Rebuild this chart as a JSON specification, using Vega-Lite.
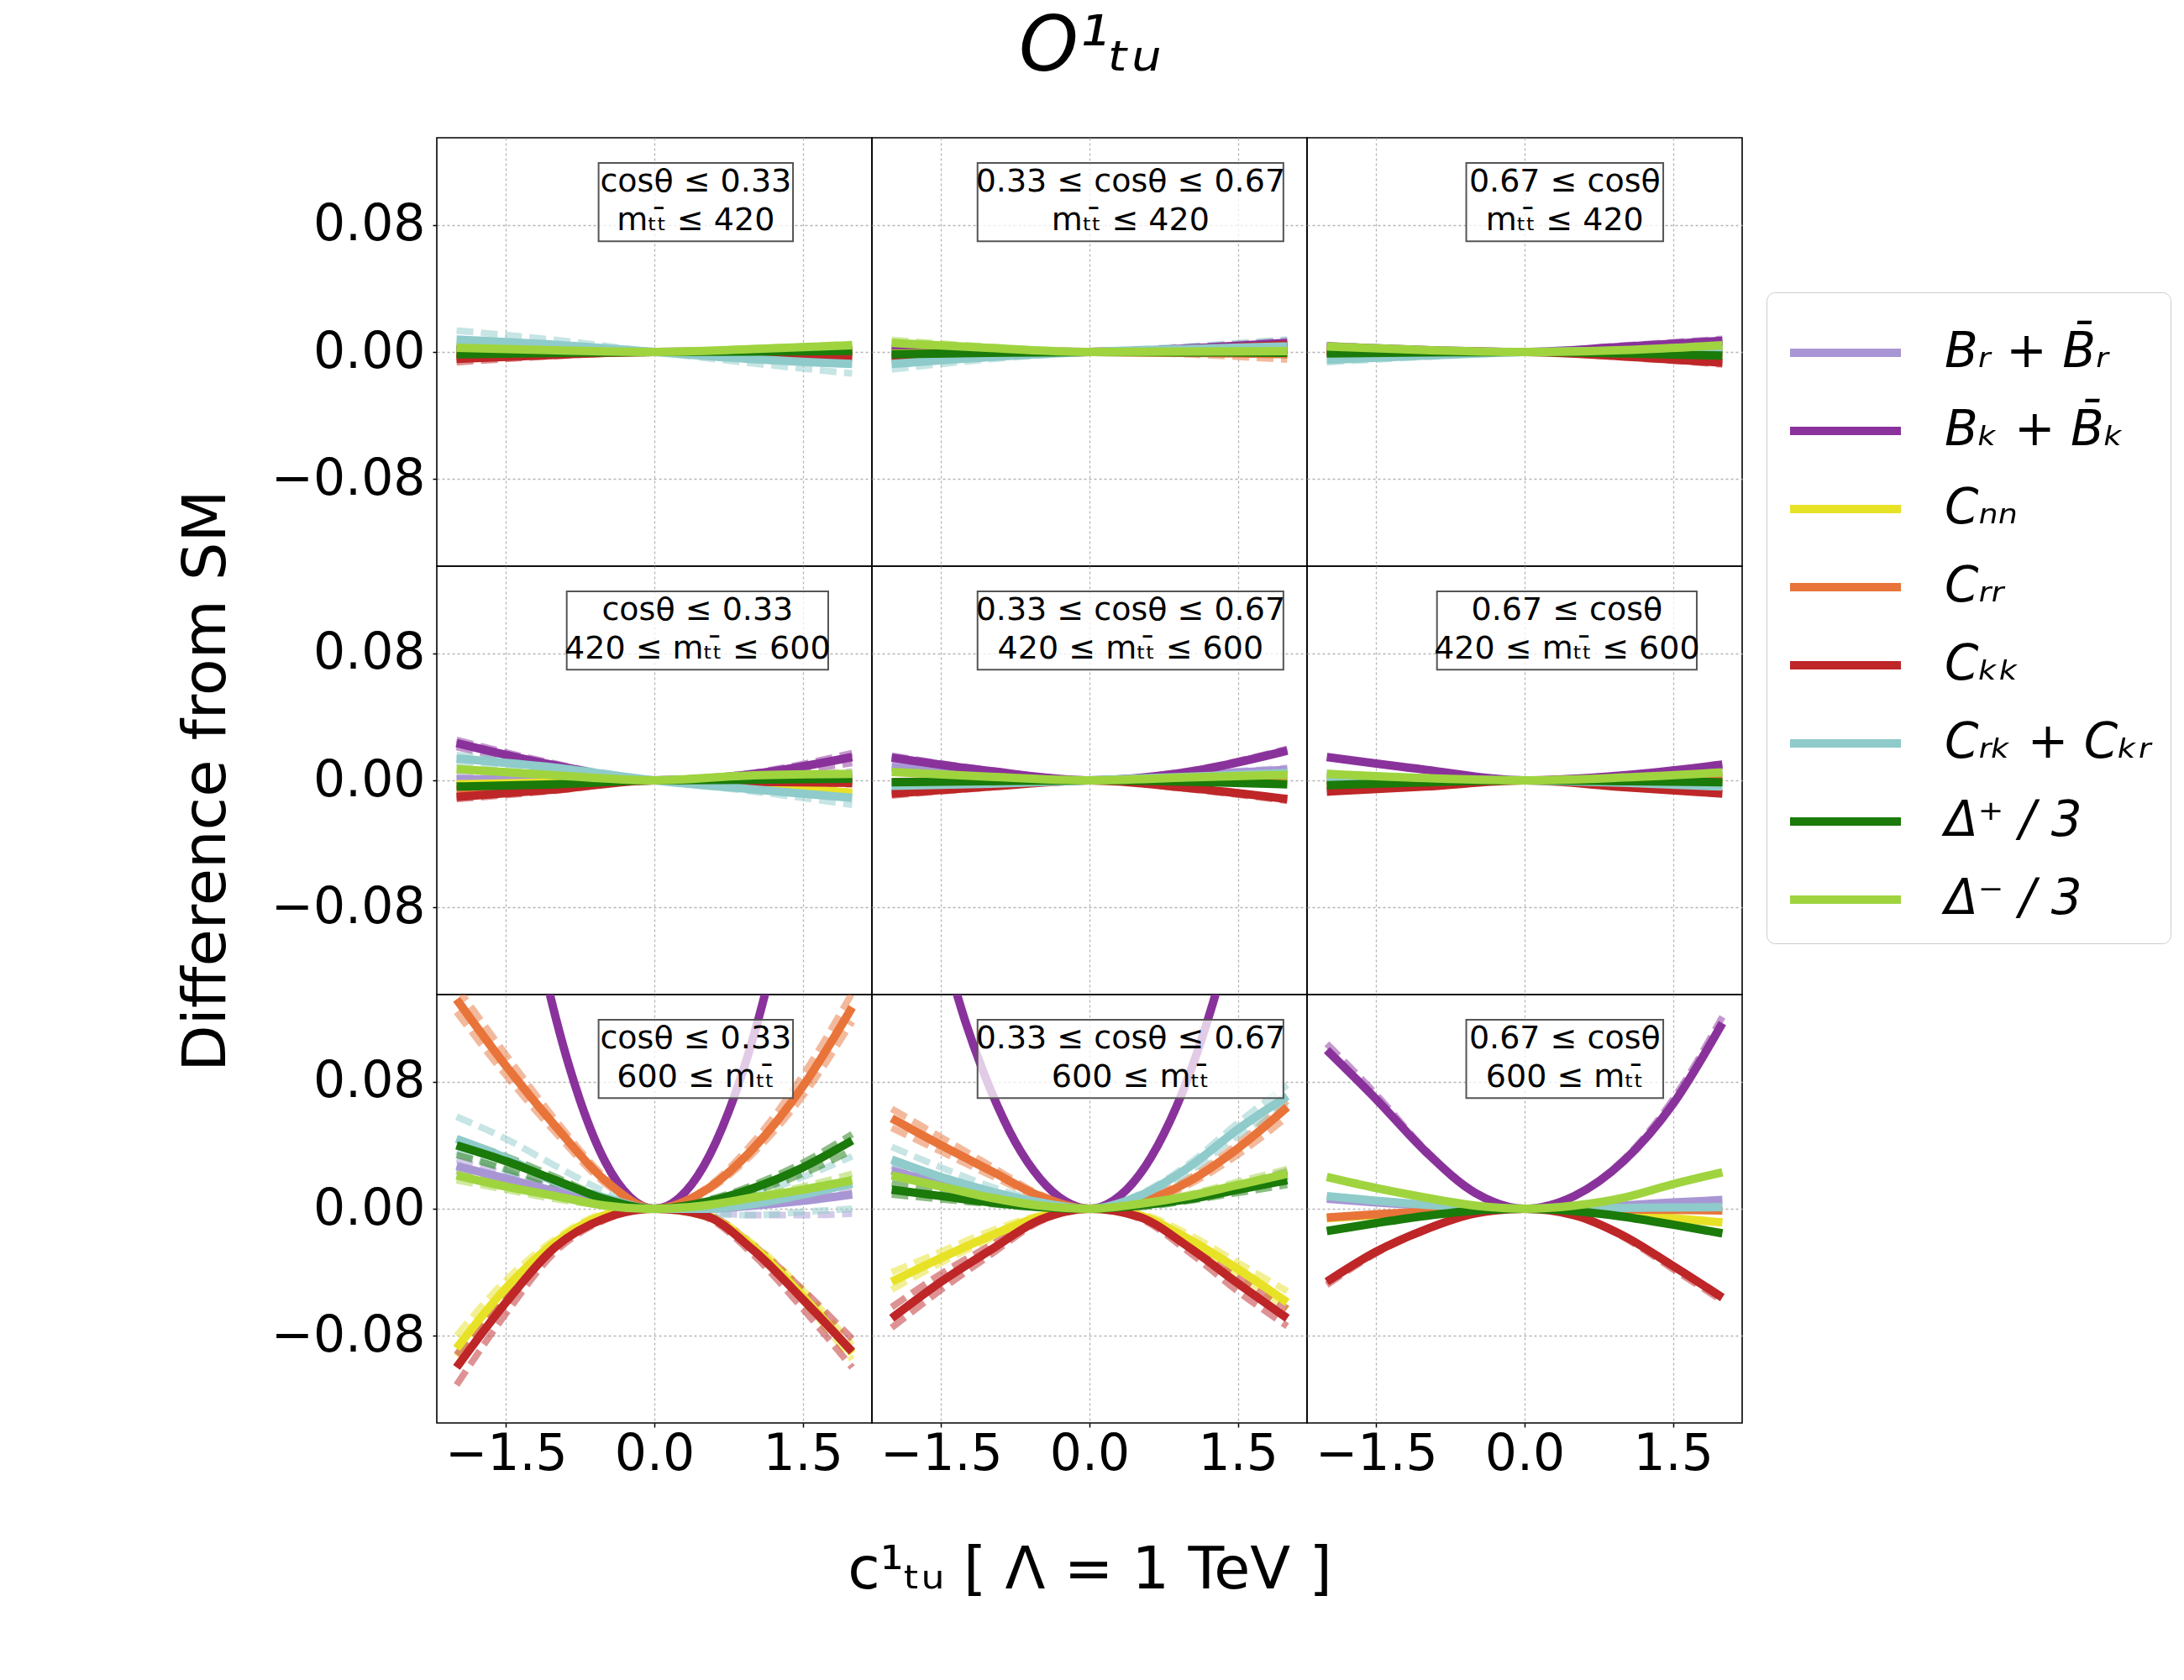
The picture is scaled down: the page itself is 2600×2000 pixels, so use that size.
{
"$schema":"https://vega.github.io/schema/vega-lite/v6.json",
"autosize":{"type":"none"},
"padding":{"left":520,"top":164,"right":2080,"bottom":1836},
"background":"white",
"title":{"text":"O¹ₜᵤ","font":"DejaVu Sans","fontSize":90,"fontStyle":"italic","fontWeight":"normal","anchor":"start","align":"center","dx":778,"frame":"group","baseline":"alphabetic","offset":-11,"color":"black"},
"datasets":{
"lab":[{"p":"a1","t":"cosθ ≤ 0.33\nmₜₜ̄ ≤ 420"},{"p":"a2","t":"0.33 ≤ cosθ ≤ 0.67\nmₜₜ̄ ≤ 420"},{"p":"a3","t":"0.67 ≤ cosθ\nmₜₜ̄ ≤ 420"},{"p":"b1","t":"cosθ ≤ 0.33\n420 ≤ mₜₜ̄ ≤ 600"},{"p":"b2","t":"0.33 ≤ cosθ ≤ 0.67\n420 ≤ mₜₜ̄ ≤ 600"},{"p":"b3","t":"0.67 ≤ cosθ\n420 ≤ mₜₜ̄ ≤ 600"},{"p":"c1","t":"cosθ ≤ 0.33\n600 ≤ mₜₜ̄"},{"p":"c2","t":"0.33 ≤ cosθ ≤ 0.67\n600 ≤ mₜₜ̄"},{"p":"c3","t":"0.67 ≤ cosθ\n600 ≤ mₜₜ̄"}],
"a1":[
{"s":"a","v":"s","x":-2,"y":0.001},{"s":"a","v":"s","x":-1,"y":0.0003},{"s":"a","v":"s","x":0,"y":0},{"s":"a","v":"s","x":1,"y":0},{"s":"a","v":"s","x":2,"y":0.0005},
{"s":"b","v":"s","x":-2,"y":0.002},{"s":"b","v":"s","x":-1,"y":0.0005},{"s":"b","v":"s","x":0,"y":0},{"s":"b","v":"s","x":1,"y":0.0003},{"s":"b","v":"s","x":2,"y":0.001},
{"s":"c","v":"s","x":-2,"y":-0.001},{"s":"c","v":"s","x":-1,"y":-0.0003},{"s":"c","v":"s","x":0,"y":0},{"s":"c","v":"s","x":1,"y":-0.0002},{"s":"c","v":"s","x":2,"y":-0.0005},
{"s":"d","v":"s","x":-2,"y":-0.003},{"s":"d","v":"s","x":-1,"y":-0.001},{"s":"d","v":"s","x":0,"y":0},{"s":"d","v":"s","x":1,"y":0.0003},{"s":"d","v":"s","x":2,"y":0.001},
{"s":"e","v":"s","x":-2,"y":-0.0044},{"s":"e","v":"s","x":-1,"y":-0.0018},{"s":"e","v":"s","x":0,"y":0},{"s":"e","v":"s","x":1,"y":-0.0009},{"s":"e","v":"s","x":2,"y":-0.0028},
{"s":"e","v":"u","x":-2,"y":-0.0065},{"s":"e","v":"u","x":-1,"y":-0.0025},{"s":"e","v":"u","x":0,"y":0},{"s":"e","v":"u","x":1,"y":-0.0013},{"s":"e","v":"u","x":2,"y":-0.004},
{"s":"e","v":"l","x":-2,"y":-0.0025},{"s":"e","v":"l","x":-1,"y":-0.001},{"s":"e","v":"l","x":0,"y":0},{"s":"e","v":"l","x":1,"y":-0.0005},{"s":"e","v":"l","x":2,"y":-0.0015},
{"s":"f","v":"s","x":-2,"y":0.0078},{"s":"f","v":"s","x":-1,"y":0.0045},{"s":"f","v":"s","x":0,"y":0},{"s":"f","v":"s","x":1,"y":-0.0045},{"s":"f","v":"s","x":2,"y":-0.0076},
{"s":"f","v":"u","x":-2,"y":0.0135},{"s":"f","v":"u","x":-1,"y":0.0075},{"s":"f","v":"u","x":0,"y":0},{"s":"f","v":"u","x":1,"y":-0.0072},{"s":"f","v":"u","x":2,"y":-0.0135},
{"s":"f","v":"l","x":-2,"y":0.004},{"s":"f","v":"l","x":-1,"y":0.0022},{"s":"f","v":"l","x":0,"y":0},{"s":"f","v":"l","x":1,"y":-0.0025},{"s":"f","v":"l","x":2,"y":-0.0045},
{"s":"g","v":"s","x":-2,"y":-0.0014},{"s":"g","v":"s","x":-1,"y":-0.0006},{"s":"g","v":"s","x":0,"y":0},{"s":"g","v":"s","x":1,"y":0.0003},{"s":"g","v":"s","x":2,"y":0.0007},
{"s":"g","v":"u","x":-2,"y":-0.002},{"s":"g","v":"u","x":-1,"y":-0.0008},{"s":"g","v":"u","x":0,"y":0},{"s":"g","v":"u","x":1,"y":0.0005},{"s":"g","v":"u","x":2,"y":0.0012},
{"s":"g","v":"l","x":-2,"y":-0.0008},{"s":"g","v":"l","x":-1,"y":-0.0003},{"s":"g","v":"l","x":0,"y":0},{"s":"g","v":"l","x":1,"y":0.0001},{"s":"g","v":"l","x":2,"y":0.0003},
{"s":"h","v":"s","x":-2,"y":0.0027},{"s":"h","v":"s","x":-1,"y":0.001},{"s":"h","v":"s","x":0,"y":0},{"s":"h","v":"s","x":1,"y":0.0018},{"s":"h","v":"s","x":2,"y":0.0042},
{"s":"h","v":"u","x":-2,"y":0.0035},{"s":"h","v":"u","x":-1,"y":0.0013},{"s":"h","v":"u","x":0,"y":0},{"s":"h","v":"u","x":1,"y":0.0022},{"s":"h","v":"u","x":2,"y":0.005},
{"s":"h","v":"l","x":-2,"y":0.002},{"s":"h","v":"l","x":-1,"y":0.0007},{"s":"h","v":"l","x":0,"y":0},{"s":"h","v":"l","x":1,"y":0.0014},{"s":"h","v":"l","x":2,"y":0.0033}
],
"a2":[
{"s":"a","v":"s","x":-2,"y":0.001},{"s":"a","v":"s","x":-1,"y":0.0003},{"s":"a","v":"s","x":0,"y":0},{"s":"a","v":"s","x":1,"y":0.001},{"s":"a","v":"s","x":2,"y":0.003},
{"s":"b","v":"s","x":-2,"y":0.002},{"s":"b","v":"s","x":-1,"y":0.0008},{"s":"b","v":"s","x":0,"y":0},{"s":"b","v":"s","x":1,"y":0.0022},{"s":"b","v":"s","x":2,"y":0.0057},
{"s":"b","v":"u","x":-2,"y":0.003},{"s":"b","v":"u","x":-1,"y":0.0012},{"s":"b","v":"u","x":0,"y":0},{"s":"b","v":"u","x":1,"y":0.003},{"s":"b","v":"u","x":2,"y":0.0072},
{"s":"c","v":"s","x":-2,"y":-0.001},{"s":"c","v":"s","x":-1,"y":-0.0003},{"s":"c","v":"s","x":0,"y":0},{"s":"c","v":"s","x":1,"y":-0.0002},{"s":"c","v":"s","x":2,"y":-0.0005},
{"s":"d","v":"s","x":-2,"y":-0.004},{"s":"d","v":"s","x":-1,"y":-0.0015},{"s":"d","v":"s","x":0,"y":0},{"s":"d","v":"s","x":1,"y":-0.0005},{"s":"d","v":"s","x":2,"y":-0.0014},
{"s":"d","v":"l","x":-2,"y":-0.006},{"s":"d","v":"l","x":-1,"y":-0.0022},{"s":"d","v":"l","x":0,"y":0},{"s":"d","v":"l","x":1,"y":-0.0015},{"s":"d","v":"l","x":2,"y":-0.0048},
{"s":"e","v":"s","x":-2,"y":-0.003},{"s":"e","v":"s","x":-1,"y":-0.001},{"s":"e","v":"s","x":0,"y":0},{"s":"e","v":"s","x":1,"y":0.0015},{"s":"e","v":"s","x":2,"y":0.0045},
{"s":"f","v":"s","x":-2,"y":-0.0076},{"s":"f","v":"s","x":-1,"y":-0.0032},{"s":"f","v":"s","x":0,"y":0},{"s":"f","v":"s","x":1,"y":0.0018},{"s":"f","v":"s","x":2,"y":0.0035},
{"s":"f","v":"u","x":-2,"y":-0.011},{"s":"f","v":"u","x":-1,"y":-0.0045},{"s":"f","v":"u","x":0,"y":0},{"s":"f","v":"u","x":1,"y":0.0035},{"s":"f","v":"u","x":2,"y":0.0078},
{"s":"f","v":"l","x":-2,"y":-0.005},{"s":"f","v":"l","x":-1,"y":-0.002},{"s":"f","v":"l","x":0,"y":0},{"s":"f","v":"l","x":1,"y":0.0006},{"s":"f","v":"l","x":2,"y":0.0012},
{"s":"g","v":"s","x":-2,"y":-0.0014},{"s":"g","v":"s","x":-1,"y":-0.0005},{"s":"g","v":"s","x":0,"y":0},{"s":"g","v":"s","x":1,"y":-0.0002},{"s":"g","v":"s","x":2,"y":-0.0005},
{"s":"h","v":"s","x":-2,"y":0.0057},{"s":"h","v":"s","x":-1,"y":0.0025},{"s":"h","v":"s","x":0,"y":0},{"s":"h","v":"s","x":1,"y":0.0003},{"s":"h","v":"s","x":2,"y":0.0005},
{"s":"h","v":"u","x":-2,"y":0.0075},{"s":"h","v":"u","x":-1,"y":0.0032},{"s":"h","v":"u","x":0,"y":0},{"s":"h","v":"u","x":1,"y":0.0006},{"s":"h","v":"u","x":2,"y":0.001},
{"s":"h","v":"l","x":-2,"y":0.0042},{"s":"h","v":"l","x":-1,"y":0.0018},{"s":"h","v":"l","x":0,"y":0},{"s":"h","v":"l","x":1,"y":0.0001},{"s":"h","v":"l","x":2,"y":0.0001}
],
"a3":[
{"s":"a","v":"s","x":-2,"y":0.0025},{"s":"a","v":"s","x":-1,"y":0.0008},{"s":"a","v":"s","x":0,"y":0},{"s":"a","v":"s","x":1,"y":0.0008},{"s":"a","v":"s","x":2,"y":0.0025},
{"s":"b","v":"s","x":-2,"y":0.0035},{"s":"b","v":"s","x":-1,"y":0.0012},{"s":"b","v":"s","x":0,"y":0},{"s":"b","v":"s","x":1,"y":0.0033},{"s":"b","v":"s","x":2,"y":0.007},
{"s":"b","v":"u","x":-2,"y":0.0042},{"s":"b","v":"u","x":-1,"y":0.0015},{"s":"b","v":"u","x":0,"y":0},{"s":"b","v":"u","x":1,"y":0.004},{"s":"b","v":"u","x":2,"y":0.0082},
{"s":"c","v":"s","x":-2,"y":0.0003},{"s":"c","v":"s","x":-1,"y":0.0001},{"s":"c","v":"s","x":0,"y":0},{"s":"c","v":"s","x":1,"y":-0.0003},{"s":"c","v":"s","x":2,"y":-0.001},
{"s":"d","v":"s","x":-2,"y":0.0007},{"s":"d","v":"s","x":-1,"y":0.0002},{"s":"d","v":"s","x":0,"y":0},{"s":"d","v":"s","x":1,"y":-0.0001},{"s":"d","v":"s","x":2,"y":-0.0005},
{"s":"e","v":"s","x":-2,"y":-0.0005},{"s":"e","v":"s","x":-1,"y":-0.0001},{"s":"e","v":"s","x":0,"y":0},{"s":"e","v":"s","x":1,"y":-0.0028},{"s":"e","v":"s","x":2,"y":-0.0067},
{"s":"e","v":"u","x":-2,"y":-0.0012},{"s":"e","v":"u","x":-1,"y":-0.0004},{"s":"e","v":"u","x":0,"y":0},{"s":"e","v":"u","x":1,"y":-0.0034},{"s":"e","v":"u","x":2,"y":-0.0078},
{"s":"f","v":"s","x":-2,"y":-0.005},{"s":"f","v":"s","x":-1,"y":-0.0023},{"s":"f","v":"s","x":0,"y":0},{"s":"f","v":"s","x":1,"y":0.0007},{"s":"f","v":"s","x":2,"y":0.0012},
{"s":"f","v":"u","x":-2,"y":-0.0065},{"s":"f","v":"u","x":-1,"y":-0.003},{"s":"f","v":"u","x":0,"y":0},{"s":"f","v":"u","x":1,"y":0.001},{"s":"f","v":"u","x":2,"y":0.0018},
{"s":"g","v":"s","x":-2,"y":-0.0009},{"s":"g","v":"s","x":-1,"y":-0.0003},{"s":"g","v":"s","x":0,"y":0},{"s":"g","v":"s","x":1,"y":-0.0009},{"s":"g","v":"s","x":2,"y":-0.0023},
{"s":"h","v":"s","x":-2,"y":0.0035},{"s":"h","v":"s","x":-1,"y":0.0012},{"s":"h","v":"s","x":0,"y":0},{"s":"h","v":"s","x":1,"y":0.0012},{"s":"h","v":"s","x":2,"y":0.0042},
{"s":"h","v":"u","x":-2,"y":0.0042},{"s":"h","v":"u","x":-1,"y":0.0015},{"s":"h","v":"u","x":0,"y":0},{"s":"h","v":"u","x":1,"y":0.0015},{"s":"h","v":"u","x":2,"y":0.005}
],
"b1":[
{"s":"a","v":"s","x":-2,"y":0.0008},{"s":"a","v":"s","x":-1,"y":0.0002},{"s":"a","v":"s","x":0,"y":0},{"s":"a","v":"s","x":1,"y":0.001},{"s":"a","v":"s","x":2,"y":0.003},
{"s":"a","v":"u","x":-2,"y":0.003},{"s":"a","v":"u","x":-1,"y":0.001},{"s":"a","v":"u","x":0,"y":0},{"s":"a","v":"u","x":1,"y":0.0018},{"s":"a","v":"u","x":2,"y":0.0055},
{"s":"b","v":"s","x":-2,"y":0.0235},{"s":"b","v":"s","x":-1,"y":0.0094},{"s":"b","v":"s","x":0,"y":0},{"s":"b","v":"s","x":1,"y":0.004},{"s":"b","v":"s","x":2,"y":0.0147},
{"s":"b","v":"u","x":-2,"y":0.0255},{"s":"b","v":"u","x":-1,"y":0.0105},{"s":"b","v":"u","x":0,"y":0},{"s":"b","v":"u","x":1,"y":0.0048},{"s":"b","v":"u","x":2,"y":0.0172},
{"s":"b","v":"l","x":-2,"y":0.021},{"s":"b","v":"l","x":-1,"y":0.008},{"s":"b","v":"l","x":0,"y":0},{"s":"b","v":"l","x":1,"y":0.003},{"s":"b","v":"l","x":2,"y":0.011},
{"s":"c","v":"s","x":-2,"y":-0.0025},{"s":"c","v":"s","x":-1,"y":-0.0012},{"s":"c","v":"s","x":0,"y":0},{"s":"c","v":"s","x":1,"y":-0.003},{"s":"c","v":"s","x":2,"y":-0.0078},
{"s":"d","v":"s","x":-2,"y":-0.006},{"s":"d","v":"s","x":-1,"y":-0.003},{"s":"d","v":"s","x":0,"y":0},{"s":"d","v":"s","x":1,"y":-0.0004},{"s":"d","v":"s","x":2,"y":-0.0004},
{"s":"e","v":"s","x":-2,"y":-0.0104},{"s":"e","v":"s","x":-1,"y":-0.0057},{"s":"e","v":"s","x":0,"y":0},{"s":"e","v":"s","x":1,"y":-0.0009},{"s":"e","v":"s","x":2,"y":-0.0016},
{"s":"e","v":"u","x":-2,"y":-0.0118},{"s":"e","v":"u","x":-1,"y":-0.0065},{"s":"e","v":"u","x":0,"y":0},{"s":"e","v":"u","x":1,"y":-0.0012},{"s":"e","v":"u","x":2,"y":-0.0025},
{"s":"f","v":"s","x":-2,"y":0.0138},{"s":"f","v":"s","x":-1,"y":0.008},{"s":"f","v":"s","x":0,"y":0},{"s":"f","v":"s","x":1,"y":-0.0057},{"s":"f","v":"s","x":2,"y":-0.011},
{"s":"f","v":"u","x":-2,"y":0.016},{"s":"f","v":"u","x":-1,"y":0.0093},{"s":"f","v":"u","x":0,"y":0},{"s":"f","v":"u","x":1,"y":-0.007},{"s":"f","v":"u","x":2,"y":-0.0154},
{"s":"f","v":"l","x":-2,"y":0.011},{"s":"f","v":"l","x":-1,"y":0.0065},{"s":"f","v":"l","x":0,"y":0},{"s":"f","v":"l","x":1,"y":-0.0045},{"s":"f","v":"l","x":2,"y":-0.0074},
{"s":"g","v":"s","x":-2,"y":-0.0039},{"s":"g","v":"s","x":-1,"y":-0.0025},{"s":"g","v":"s","x":0,"y":0},{"s":"g","v":"s","x":1,"y":0.0004},{"s":"g","v":"s","x":2,"y":0.001},
{"s":"h","v":"s","x":-2,"y":0.0071},{"s":"h","v":"s","x":-1,"y":0.0032},{"s":"h","v":"s","x":0,"y":0},{"s":"h","v":"s","x":1,"y":0.0032},{"s":"h","v":"s","x":2,"y":0.0041}
],
"b2":[
{"s":"a","v":"s","x":-2,"y":0.0085},{"s":"a","v":"s","x":-1,"y":0.0035},{"s":"a","v":"s","x":0,"y":0},{"s":"a","v":"s","x":1,"y":0.0032},{"s":"a","v":"s","x":2,"y":0.0067},
{"s":"a","v":"u","x":-2,"y":0.0095},{"s":"a","v":"u","x":-1,"y":0.004},{"s":"a","v":"u","x":0,"y":0},{"s":"a","v":"u","x":1,"y":0.0038},{"s":"a","v":"u","x":2,"y":0.0078},
{"s":"b","v":"s","x":-2,"y":0.0143},{"s":"b","v":"s","x":-1,"y":0.0058},{"s":"b","v":"s","x":0,"y":0},{"s":"b","v":"s","x":1,"y":0.0053},{"s":"b","v":"s","x":2,"y":0.0187},
{"s":"b","v":"u","x":-2,"y":0.0155},{"s":"b","v":"u","x":-1,"y":0.0063},{"s":"b","v":"u","x":0,"y":0},{"s":"b","v":"u","x":1,"y":0.006},{"s":"b","v":"u","x":2,"y":0.0198},
{"s":"c","v":"s","x":-2,"y":-0.002},{"s":"c","v":"s","x":-1,"y":-0.0007},{"s":"c","v":"s","x":0,"y":0},{"s":"c","v":"s","x":1,"y":-0.0004},{"s":"c","v":"s","x":2,"y":-0.0009},
{"s":"d","v":"s","x":-2,"y":-0.001},{"s":"d","v":"s","x":-1,"y":-0.0003},{"s":"d","v":"s","x":0,"y":0},{"s":"d","v":"s","x":1,"y":0.0012},{"s":"d","v":"s","x":2,"y":0.003},
{"s":"e","v":"s","x":-2,"y":-0.0083},{"s":"e","v":"s","x":-1,"y":-0.0039},{"s":"e","v":"s","x":0,"y":0},{"s":"e","v":"s","x":1,"y":-0.0048},{"s":"e","v":"s","x":2,"y":-0.0118},
{"s":"e","v":"u","x":-2,"y":-0.0095},{"s":"e","v":"u","x":-1,"y":-0.0044},{"s":"e","v":"u","x":0,"y":0},{"s":"e","v":"u","x":1,"y":-0.0055},{"s":"e","v":"u","x":2,"y":-0.0128},
{"s":"f","v":"s","x":-2,"y":-0.0035},{"s":"f","v":"s","x":-1,"y":-0.0021},{"s":"f","v":"s","x":0,"y":0},{"s":"f","v":"s","x":1,"y":0.0023},{"s":"f","v":"s","x":2,"y":0.0046},
{"s":"f","v":"u","x":-2,"y":-0.0048},{"s":"f","v":"u","x":-1,"y":-0.0026},{"s":"f","v":"u","x":0,"y":0},{"s":"f","v":"u","x":1,"y":0.003},{"s":"f","v":"u","x":2,"y":0.006},
{"s":"g","v":"s","x":-2,"y":-0.0012},{"s":"g","v":"s","x":-1,"y":-0.0005},{"s":"g","v":"s","x":0,"y":0},{"s":"g","v":"s","x":1,"y":-0.0008},{"s":"g","v":"s","x":2,"y":-0.0025},
{"s":"h","v":"s","x":-2,"y":0.0053},{"s":"h","v":"s","x":-1,"y":0.0023},{"s":"h","v":"s","x":0,"y":0},{"s":"h","v":"s","x":1,"y":0.0018},{"s":"h","v":"s","x":2,"y":0.0035}
],
"b3":[
{"s":"a","v":"s","x":-2,"y":0.0023},{"s":"a","v":"s","x":-1,"y":0.0008},{"s":"a","v":"s","x":0,"y":0},{"s":"a","v":"s","x":1,"y":0.0012},{"s":"a","v":"s","x":2,"y":0.0035},
{"s":"b","v":"s","x":-2,"y":0.0147},{"s":"b","v":"s","x":-1,"y":0.0067},{"s":"b","v":"s","x":0,"y":0},{"s":"b","v":"s","x":1,"y":0.0032},{"s":"b","v":"s","x":2,"y":0.0099},
{"s":"c","v":"s","x":-2,"y":-0.0012},{"s":"c","v":"s","x":-1,"y":-0.0004},{"s":"c","v":"s","x":0,"y":0},{"s":"c","v":"s","x":1,"y":-0.0004},{"s":"c","v":"s","x":2,"y":-0.0012},
{"s":"d","v":"s","x":-2,"y":-0.0021},{"s":"d","v":"s","x":-1,"y":-0.0008},{"s":"d","v":"s","x":0,"y":0},{"s":"d","v":"s","x":1,"y":0.0004},{"s":"d","v":"s","x":2,"y":0.0014},
{"s":"e","v":"s","x":-2,"y":-0.0071},{"s":"e","v":"s","x":-1,"y":-0.0039},{"s":"e","v":"s","x":0,"y":0},{"s":"e","v":"s","x":1,"y":-0.0042},{"s":"e","v":"s","x":2,"y":-0.0083},
{"s":"f","v":"s","x":-2,"y":0.0014},{"s":"f","v":"s","x":-1,"y":0.0005},{"s":"f","v":"s","x":0,"y":0},{"s":"f","v":"s","x":1,"y":-0.0015},{"s":"f","v":"s","x":2,"y":-0.0039},
{"s":"g","v":"s","x":-2,"y":-0.003},{"s":"g","v":"s","x":-1,"y":-0.0012},{"s":"g","v":"s","x":0,"y":0},{"s":"g","v":"s","x":1,"y":-0.0005},{"s":"g","v":"s","x":2,"y":-0.0012},
{"s":"g","v":"u","x":-2,"y":-0.0035},{"s":"g","v":"u","x":-1,"y":-0.0014},{"s":"g","v":"u","x":0,"y":0},{"s":"g","v":"u","x":1,"y":-0.0007},{"s":"g","v":"u","x":2,"y":-0.0016},
{"s":"h","v":"s","x":-2,"y":0.0041},{"s":"h","v":"s","x":-1,"y":0.0014},{"s":"h","v":"s","x":0,"y":0},{"s":"h","v":"s","x":1,"y":0.0018},{"s":"h","v":"s","x":2,"y":0.005},
{"s":"h","v":"u","x":-2,"y":0.0046},{"s":"h","v":"u","x":-1,"y":0.0016},{"s":"h","v":"u","x":0,"y":0},{"s":"h","v":"u","x":1,"y":0.002},{"s":"h","v":"u","x":2,"y":0.0056}
],
"c1":[
{"s":"a","v":"s","x":-2,"y":0.027},{"s":"a","v":"s","x":-1.5,"y":0.019},{"s":"a","v":"s","x":-1,"y":0.011},{"s":"a","v":"s","x":-0.5,"y":0.004},{"s":"a","v":"s","x":0,"y":0},{"s":"a","v":"s","x":0.5,"y":0},{"s":"a","v":"s","x":1,"y":0.002},{"s":"a","v":"s","x":1.5,"y":0.005},{"s":"a","v":"s","x":2,"y":0.009},
{"s":"a","v":"u","x":-2,"y":0.031},{"s":"a","v":"u","x":-1.5,"y":0.022},{"s":"a","v":"u","x":-1,"y":0.013},{"s":"a","v":"u","x":-0.5,"y":0.005},{"s":"a","v":"u","x":0,"y":0},{"s":"a","v":"u","x":0.5,"y":0.001},{"s":"a","v":"u","x":1,"y":0.003},{"s":"a","v":"u","x":1.5,"y":0.006},{"s":"a","v":"u","x":2,"y":0.011},
{"s":"a","v":"l","x":-2,"y":0.024},{"s":"a","v":"l","x":-1.5,"y":0.016},{"s":"a","v":"l","x":-1,"y":0.009},{"s":"a","v":"l","x":-0.5,"y":0.003},{"s":"a","v":"l","x":0,"y":0},{"s":"a","v":"l","x":0.5,"y":-0.002},{"s":"a","v":"l","x":1,"y":-0.004},{"s":"a","v":"l","x":1.5,"y":-0.004},{"s":"a","v":"l","x":2,"y":-0.003},
{"s":"b","v":"s","x":-1.5,"y":0.27},{"s":"b","v":"s","x":-1.25,"y":0.189},{"s":"b","v":"s","x":-1,"y":0.121},{"s":"b","v":"s","x":-0.75,"y":0.068},{"s":"b","v":"s","x":-0.5,"y":0.03},{"s":"b","v":"s","x":-0.25,"y":0.0076},{"s":"b","v":"s","x":0,"y":0},{"s":"b","v":"s","x":0.25,"y":0.0068},{"s":"b","v":"s","x":0.5,"y":0.027},{"s":"b","v":"s","x":0.75,"y":0.061},{"s":"b","v":"s","x":1,"y":0.108},{"s":"b","v":"s","x":1.25,"y":0.169},{"s":"b","v":"s","x":1.5,"y":0.243},
{"s":"c","v":"s","x":-2,"y":-0.088},{"s":"c","v":"s","x":-1.5,"y":-0.05},{"s":"c","v":"s","x":-1,"y":-0.021},{"s":"c","v":"s","x":-0.5,"y":-0.004},{"s":"c","v":"s","x":0,"y":0},{"s":"c","v":"s","x":0.5,"y":-0.004},{"s":"c","v":"s","x":1,"y":-0.024},{"s":"c","v":"s","x":1.5,"y":-0.055},{"s":"c","v":"s","x":2,"y":-0.091},
{"s":"c","v":"u","x":-2,"y":-0.093},{"s":"c","v":"u","x":-1.5,"y":-0.053},{"s":"c","v":"u","x":-1,"y":-0.023},{"s":"c","v":"u","x":-0.5,"y":-0.005},{"s":"c","v":"u","x":0,"y":0},{"s":"c","v":"u","x":0.5,"y":-0.004},{"s":"c","v":"u","x":1,"y":-0.026},{"s":"c","v":"u","x":1.5,"y":-0.058},{"s":"c","v":"u","x":2,"y":-0.095},
{"s":"c","v":"l","x":-2,"y":-0.08},{"s":"c","v":"l","x":-1.5,"y":-0.045},{"s":"c","v":"l","x":-1,"y":-0.019},{"s":"c","v":"l","x":-0.5,"y":-0.003},{"s":"c","v":"l","x":0,"y":0},{"s":"c","v":"l","x":0.5,"y":-0.003},{"s":"c","v":"l","x":1,"y":-0.022},{"s":"c","v":"l","x":1.5,"y":-0.051},{"s":"c","v":"l","x":2,"y":-0.086},
{"s":"d","v":"s","x":-2,"y":0.132},{"s":"d","v":"s","x":-1.5,"y":0.09},{"s":"d","v":"s","x":-1,"y":0.052},{"s":"d","v":"s","x":-0.5,"y":0.018},{"s":"d","v":"s","x":0,"y":0},{"s":"d","v":"s","x":0.5,"y":0.011},{"s":"d","v":"s","x":1,"y":0.038},{"s":"d","v":"s","x":1.5,"y":0.077},{"s":"d","v":"s","x":2,"y":0.127},
{"s":"d","v":"u","x":-2,"y":0.14},{"s":"d","v":"u","x":-1.5,"y":0.097},{"s":"d","v":"u","x":-1,"y":0.056},{"s":"d","v":"u","x":-0.5,"y":0.02},{"s":"d","v":"u","x":0,"y":0},{"s":"d","v":"u","x":0.5,"y":0.012},{"s":"d","v":"u","x":1,"y":0.042},{"s":"d","v":"u","x":1.5,"y":0.084},{"s":"d","v":"u","x":2,"y":0.136},
{"s":"d","v":"l","x":-2,"y":0.124},{"s":"d","v":"l","x":-1.5,"y":0.084},{"s":"d","v":"l","x":-1,"y":0.048},{"s":"d","v":"l","x":-0.5,"y":0.016},{"s":"d","v":"l","x":0,"y":0},{"s":"d","v":"l","x":0.5,"y":0.01},{"s":"d","v":"l","x":1,"y":0.035},{"s":"d","v":"l","x":1.5,"y":0.071},{"s":"d","v":"l","x":2,"y":0.118},
{"s":"e","v":"s","x":-2,"y":-0.1},{"s":"e","v":"s","x":-1.5,"y":-0.059},{"s":"e","v":"s","x":-1,"y":-0.024},{"s":"e","v":"s","x":-0.5,"y":-0.006},{"s":"e","v":"s","x":0,"y":0},{"s":"e","v":"s","x":0.5,"y":-0.004},{"s":"e","v":"s","x":1,"y":-0.026},{"s":"e","v":"s","x":1.5,"y":-0.057},{"s":"e","v":"s","x":2,"y":-0.09},
{"s":"e","v":"u","x":-2,"y":-0.111},{"s":"e","v":"u","x":-1.5,"y":-0.066},{"s":"e","v":"u","x":-1,"y":-0.027},{"s":"e","v":"u","x":-0.5,"y":-0.007},{"s":"e","v":"u","x":0,"y":0},{"s":"e","v":"u","x":0.5,"y":-0.005},{"s":"e","v":"u","x":1,"y":-0.029},{"s":"e","v":"u","x":1.5,"y":-0.063},{"s":"e","v":"u","x":2,"y":-0.1},
{"s":"e","v":"l","x":-2,"y":-0.092},{"s":"e","v":"l","x":-1.5,"y":-0.053},{"s":"e","v":"l","x":-1,"y":-0.021},{"s":"e","v":"l","x":-0.5,"y":-0.005},{"s":"e","v":"l","x":0,"y":0},{"s":"e","v":"l","x":0.5,"y":-0.003},{"s":"e","v":"l","x":1,"y":-0.023},{"s":"e","v":"l","x":1.5,"y":-0.051},{"s":"e","v":"l","x":2,"y":-0.082},
{"s":"f","v":"s","x":-2,"y":0.044},{"s":"f","v":"s","x":-1.5,"y":0.032},{"s":"f","v":"s","x":-1,"y":0.017},{"s":"f","v":"s","x":-0.5,"y":0.007},{"s":"f","v":"s","x":0,"y":0},{"s":"f","v":"s","x":0.5,"y":0},{"s":"f","v":"s","x":1,"y":0.003},{"s":"f","v":"s","x":1.5,"y":0.009},{"s":"f","v":"s","x":2,"y":0.016},
{"s":"f","v":"u","x":-2,"y":0.058},{"s":"f","v":"u","x":-1.5,"y":0.044},{"s":"f","v":"u","x":-1,"y":0.027},{"s":"f","v":"u","x":-0.5,"y":0.011},{"s":"f","v":"u","x":0,"y":0},{"s":"f","v":"u","x":0.5,"y":0.002},{"s":"f","v":"u","x":1,"y":0.009},{"s":"f","v":"u","x":1.5,"y":0.02},{"s":"f","v":"u","x":2,"y":0.033},
{"s":"f","v":"l","x":-2,"y":0.036},{"s":"f","v":"l","x":-1.5,"y":0.024},{"s":"f","v":"l","x":-1,"y":0.011},{"s":"f","v":"l","x":-0.5,"y":0.003},{"s":"f","v":"l","x":0,"y":0},{"s":"f","v":"l","x":0.5,"y":-0.003},{"s":"f","v":"l","x":1,"y":-0.004},{"s":"f","v":"l","x":1.5,"y":-0.002},{"s":"f","v":"l","x":2,"y":0},
{"s":"g","v":"s","x":-2,"y":0.04},{"s":"g","v":"s","x":-1.5,"y":0.03},{"s":"g","v":"s","x":-1,"y":0.018},{"s":"g","v":"s","x":-0.5,"y":0.006},{"s":"g","v":"s","x":0,"y":0},{"s":"g","v":"s","x":0.5,"y":0.004},{"s":"g","v":"s","x":1,"y":0.013},{"s":"g","v":"s","x":1.5,"y":0.026},{"s":"g","v":"s","x":2,"y":0.043},
{"s":"g","v":"u","x":-2,"y":0.044},{"s":"g","v":"u","x":-1.5,"y":0.033},{"s":"g","v":"u","x":-1,"y":0.02},{"s":"g","v":"u","x":-0.5,"y":0.007},{"s":"g","v":"u","x":0,"y":0},{"s":"g","v":"u","x":0.5,"y":0.005},{"s":"g","v":"u","x":1,"y":0.015},{"s":"g","v":"u","x":1.5,"y":0.029},{"s":"g","v":"u","x":2,"y":0.047},
{"s":"g","v":"l","x":-2,"y":0.034},{"s":"g","v":"l","x":-1.5,"y":0.025},{"s":"g","v":"l","x":-1,"y":0.015},{"s":"g","v":"l","x":-0.5,"y":0.005},{"s":"g","v":"l","x":0,"y":0},{"s":"g","v":"l","x":0.5,"y":0.003},{"s":"g","v":"l","x":1,"y":0.011},{"s":"g","v":"l","x":1.5,"y":0.022},{"s":"g","v":"l","x":2,"y":0.037},
{"s":"h","v":"s","x":-2,"y":0.021},{"s":"h","v":"s","x":-1.5,"y":0.014},{"s":"h","v":"s","x":-1,"y":0.008},{"s":"h","v":"s","x":-0.5,"y":0.002},{"s":"h","v":"s","x":0,"y":0},{"s":"h","v":"s","x":0.5,"y":0.002},{"s":"h","v":"s","x":1,"y":0.007},{"s":"h","v":"s","x":1.5,"y":0.012},{"s":"h","v":"s","x":2,"y":0.018},
{"s":"h","v":"u","x":-2,"y":0.024},{"s":"h","v":"u","x":-1.5,"y":0.016},{"s":"h","v":"u","x":-1,"y":0.009},{"s":"h","v":"u","x":-0.5,"y":0.003},{"s":"h","v":"u","x":0,"y":0},{"s":"h","v":"u","x":0.5,"y":0.003},{"s":"h","v":"u","x":1,"y":0.008},{"s":"h","v":"u","x":1.5,"y":0.014},{"s":"h","v":"u","x":2,"y":0.022},
{"s":"h","v":"l","x":-2,"y":0.018},{"s":"h","v":"l","x":-1.5,"y":0.012},{"s":"h","v":"l","x":-1,"y":0.006},{"s":"h","v":"l","x":-0.5,"y":0.002},{"s":"h","v":"l","x":0,"y":0},{"s":"h","v":"l","x":0.5,"y":0.001},{"s":"h","v":"l","x":1,"y":0.005},{"s":"h","v":"l","x":1.5,"y":0.01},{"s":"h","v":"l","x":2,"y":0.015}
],
"c2":[
{"s":"a","v":"s","x":-2,"y":0.024},{"s":"a","v":"s","x":-1.5,"y":0.016},{"s":"a","v":"s","x":-1,"y":0.009},{"s":"a","v":"s","x":-0.5,"y":0.003},{"s":"a","v":"s","x":0,"y":0},{"s":"a","v":"s","x":0.5,"y":0.002},{"s":"a","v":"s","x":1,"y":0.007},{"s":"a","v":"s","x":1.5,"y":0.013},{"s":"a","v":"s","x":2,"y":0.021},
{"s":"a","v":"u","x":-2,"y":0.027},{"s":"a","v":"u","x":-1.5,"y":0.018},{"s":"a","v":"u","x":-1,"y":0.01},{"s":"a","v":"u","x":-0.5,"y":0.003},{"s":"a","v":"u","x":0,"y":0},{"s":"a","v":"u","x":0.5,"y":0.003},{"s":"a","v":"u","x":1,"y":0.008},{"s":"a","v":"u","x":1.5,"y":0.015},{"s":"a","v":"u","x":2,"y":0.024},
{"s":"b","v":"s","x":-1.5,"y":0.17},{"s":"b","v":"s","x":-1.25,"y":0.117},{"s":"b","v":"s","x":-1,"y":0.075},{"s":"b","v":"s","x":-0.75,"y":0.042},{"s":"b","v":"s","x":-0.5,"y":0.019},{"s":"b","v":"s","x":-0.25,"y":0.005},{"s":"b","v":"s","x":0,"y":0},{"s":"b","v":"s","x":0.25,"y":0.0055},{"s":"b","v":"s","x":0.5,"y":0.021},{"s":"b","v":"s","x":0.75,"y":0.047},{"s":"b","v":"s","x":1,"y":0.083},{"s":"b","v":"s","x":1.25,"y":0.13},{"s":"b","v":"s","x":1.5,"y":0.187},
{"s":"c","v":"s","x":-2,"y":-0.046},{"s":"c","v":"s","x":-1.5,"y":-0.031},{"s":"c","v":"s","x":-1,"y":-0.017},{"s":"c","v":"s","x":-0.5,"y":-0.005},{"s":"c","v":"s","x":0,"y":0},{"s":"c","v":"s","x":0.5,"y":-0.004},{"s":"c","v":"s","x":1,"y":-0.019},{"s":"c","v":"s","x":1.5,"y":-0.038},{"s":"c","v":"s","x":2,"y":-0.059},
{"s":"c","v":"u","x":-2,"y":-0.051},{"s":"c","v":"u","x":-1.5,"y":-0.034},{"s":"c","v":"u","x":-1,"y":-0.019},{"s":"c","v":"u","x":-0.5,"y":-0.006},{"s":"c","v":"u","x":0,"y":0},{"s":"c","v":"u","x":0.5,"y":-0.005},{"s":"c","v":"u","x":1,"y":-0.021},{"s":"c","v":"u","x":1.5,"y":-0.041},{"s":"c","v":"u","x":2,"y":-0.063},
{"s":"c","v":"l","x":-2,"y":-0.04},{"s":"c","v":"l","x":-1.5,"y":-0.027},{"s":"c","v":"l","x":-1,"y":-0.014},{"s":"c","v":"l","x":-0.5,"y":-0.004},{"s":"c","v":"l","x":0,"y":0},{"s":"c","v":"l","x":0.5,"y":-0.003},{"s":"c","v":"l","x":1,"y":-0.016},{"s":"c","v":"l","x":1.5,"y":-0.034},{"s":"c","v":"l","x":2,"y":-0.052},
{"s":"d","v":"s","x":-2,"y":0.057},{"s":"d","v":"s","x":-1.5,"y":0.04},{"s":"d","v":"s","x":-1,"y":0.024},{"s":"d","v":"s","x":-0.5,"y":0.008},{"s":"d","v":"s","x":0,"y":0},{"s":"d","v":"s","x":0.5,"y":0.004},{"s":"d","v":"s","x":1,"y":0.017},{"s":"d","v":"s","x":1.5,"y":0.038},{"s":"d","v":"s","x":2,"y":0.064},
{"s":"d","v":"u","x":-2,"y":0.063},{"s":"d","v":"u","x":-1.5,"y":0.045},{"s":"d","v":"u","x":-1,"y":0.027},{"s":"d","v":"u","x":-0.5,"y":0.009},{"s":"d","v":"u","x":0,"y":0},{"s":"d","v":"u","x":0.5,"y":0.005},{"s":"d","v":"u","x":1,"y":0.019},{"s":"d","v":"u","x":1.5,"y":0.041},{"s":"d","v":"u","x":2,"y":0.068},
{"s":"d","v":"l","x":-2,"y":0.051},{"s":"d","v":"l","x":-1.5,"y":0.036},{"s":"d","v":"l","x":-1,"y":0.021},{"s":"d","v":"l","x":-0.5,"y":0.007},{"s":"d","v":"l","x":0,"y":0},{"s":"d","v":"l","x":0.5,"y":0.003},{"s":"d","v":"l","x":1,"y":0.015},{"s":"d","v":"l","x":1.5,"y":0.034},{"s":"d","v":"l","x":2,"y":0.058},
{"s":"e","v":"s","x":-2,"y":-0.069},{"s":"e","v":"s","x":-1.5,"y":-0.046},{"s":"e","v":"s","x":-1,"y":-0.026},{"s":"e","v":"s","x":-0.5,"y":-0.007},{"s":"e","v":"s","x":0,"y":0},{"s":"e","v":"s","x":0.5,"y":-0.005},{"s":"e","v":"s","x":1,"y":-0.024},{"s":"e","v":"s","x":1.5,"y":-0.047},{"s":"e","v":"s","x":2,"y":-0.069},
{"s":"e","v":"u","x":-2,"y":-0.075},{"s":"e","v":"u","x":-1.5,"y":-0.051},{"s":"e","v":"u","x":-1,"y":-0.029},{"s":"e","v":"u","x":-0.5,"y":-0.008},{"s":"e","v":"u","x":0,"y":0},{"s":"e","v":"u","x":0.5,"y":-0.006},{"s":"e","v":"u","x":1,"y":-0.027},{"s":"e","v":"u","x":1.5,"y":-0.052},{"s":"e","v":"u","x":2,"y":-0.074},
{"s":"e","v":"l","x":-2,"y":-0.062},{"s":"e","v":"l","x":-1.5,"y":-0.041},{"s":"e","v":"l","x":-1,"y":-0.023},{"s":"e","v":"l","x":-0.5,"y":-0.006},{"s":"e","v":"l","x":0,"y":0},{"s":"e","v":"l","x":0.5,"y":-0.004},{"s":"e","v":"l","x":1,"y":-0.021},{"s":"e","v":"l","x":1.5,"y":-0.042},{"s":"e","v":"l","x":2,"y":-0.063},
{"s":"f","v":"s","x":-2,"y":0.031},{"s":"f","v":"s","x":-1.5,"y":0.02},{"s":"f","v":"s","x":-1,"y":0.011},{"s":"f","v":"s","x":-0.5,"y":0.004},{"s":"f","v":"s","x":0,"y":0},{"s":"f","v":"s","x":0.5,"y":0.008},{"s":"f","v":"s","x":1,"y":0.026},{"s":"f","v":"s","x":1.5,"y":0.05},{"s":"f","v":"s","x":2,"y":0.071},
{"s":"f","v":"u","x":-2,"y":0.039},{"s":"f","v":"u","x":-1.5,"y":0.026},{"s":"f","v":"u","x":-1,"y":0.014},{"s":"f","v":"u","x":-0.5,"y":0.005},{"s":"f","v":"u","x":0,"y":0},{"s":"f","v":"u","x":0.5,"y":0.009},{"s":"f","v":"u","x":1,"y":0.028},{"s":"f","v":"u","x":1.5,"y":0.054},{"s":"f","v":"u","x":2,"y":0.078},
{"s":"f","v":"l","x":-2,"y":0.027},{"s":"f","v":"l","x":-1.5,"y":0.017},{"s":"f","v":"l","x":-1,"y":0.009},{"s":"f","v":"l","x":-0.5,"y":0.003},{"s":"f","v":"l","x":0,"y":0},{"s":"f","v":"l","x":0.5,"y":0.007},{"s":"f","v":"l","x":1,"y":0.023},{"s":"f","v":"l","x":1.5,"y":0.046},{"s":"f","v":"l","x":2,"y":0.066},
{"s":"g","v":"s","x":-2,"y":0.012},{"s":"g","v":"s","x":-1.5,"y":0.008},{"s":"g","v":"s","x":-1,"y":0.004},{"s":"g","v":"s","x":-0.5,"y":0.001},{"s":"g","v":"s","x":0,"y":0},{"s":"g","v":"s","x":0.5,"y":0.002},{"s":"g","v":"s","x":1,"y":0.006},{"s":"g","v":"s","x":1.5,"y":0.012},{"s":"g","v":"s","x":2,"y":0.018},
{"s":"g","v":"u","x":-2,"y":0.016},{"s":"g","v":"u","x":-1.5,"y":0.011},{"s":"g","v":"u","x":-1,"y":0.005},{"s":"g","v":"u","x":-0.5,"y":0.002},{"s":"g","v":"u","x":0,"y":0},{"s":"g","v":"u","x":0.5,"y":0.003},{"s":"g","v":"u","x":1,"y":0.008},{"s":"g","v":"u","x":1.5,"y":0.015},{"s":"g","v":"u","x":2,"y":0.023},
{"s":"g","v":"l","x":-2,"y":0.009},{"s":"g","v":"l","x":-1.5,"y":0.006},{"s":"g","v":"l","x":-1,"y":0.003},{"s":"g","v":"l","x":-0.5,"y":0.001},{"s":"g","v":"l","x":0,"y":0},{"s":"g","v":"l","x":0.5,"y":0.001},{"s":"g","v":"l","x":1,"y":0.005},{"s":"g","v":"l","x":1.5,"y":0.01},{"s":"g","v":"l","x":2,"y":0.015},
{"s":"h","v":"s","x":-2,"y":0.021},{"s":"h","v":"s","x":-1.5,"y":0.014},{"s":"h","v":"s","x":-1,"y":0.007},{"s":"h","v":"s","x":-0.5,"y":0.002},{"s":"h","v":"s","x":0,"y":0},{"s":"h","v":"s","x":0.5,"y":0.003},{"s":"h","v":"s","x":1,"y":0.008},{"s":"h","v":"s","x":1.5,"y":0.015},{"s":"h","v":"s","x":2,"y":0.022},
{"s":"h","v":"u","x":-2,"y":0.024},{"s":"h","v":"u","x":-1.5,"y":0.016},{"s":"h","v":"u","x":-1,"y":0.008},{"s":"h","v":"u","x":-0.5,"y":0.002},{"s":"h","v":"u","x":0,"y":0},{"s":"h","v":"u","x":0.5,"y":0.003},{"s":"h","v":"u","x":1,"y":0.009},{"s":"h","v":"u","x":1.5,"y":0.017},{"s":"h","v":"u","x":2,"y":0.025}
],
"c3":[
{"s":"a","v":"s","x":-2,"y":0.0064},{"s":"a","v":"s","x":-1.5,"y":0.004},{"s":"a","v":"s","x":-1,"y":0.002},{"s":"a","v":"s","x":-0.5,"y":0.0005},{"s":"a","v":"s","x":0,"y":0},{"s":"a","v":"s","x":0.5,"y":0.0005},{"s":"a","v":"s","x":1,"y":0.002},{"s":"a","v":"s","x":1.5,"y":0.004},{"s":"a","v":"s","x":2,"y":0.0055},
{"s":"b","v":"s","x":-2,"y":0.1},{"s":"b","v":"s","x":-1.5,"y":0.069},{"s":"b","v":"s","x":-1,"y":0.036},{"s":"b","v":"s","x":-0.5,"y":0.01},{"s":"b","v":"s","x":0,"y":0},{"s":"b","v":"s","x":0.5,"y":0.008},{"s":"b","v":"s","x":1,"y":0.03},{"s":"b","v":"s","x":1.5,"y":0.066},{"s":"b","v":"s","x":2,"y":0.117},
{"s":"b","v":"u","x":-2,"y":0.104},{"s":"b","v":"u","x":-1.5,"y":0.072},{"s":"b","v":"u","x":-1,"y":0.037},{"s":"b","v":"u","x":-0.5,"y":0.01},{"s":"b","v":"u","x":0,"y":0},{"s":"b","v":"u","x":0.5,"y":0.008},{"s":"b","v":"u","x":1,"y":0.031},{"s":"b","v":"u","x":1.5,"y":0.069},{"s":"b","v":"u","x":2,"y":0.121},
{"s":"c","v":"s","x":-2,"y":-0.006},{"s":"c","v":"s","x":-1.5,"y":-0.004},{"s":"c","v":"s","x":-1,"y":-0.002},{"s":"c","v":"s","x":-0.5,"y":-0.0005},{"s":"c","v":"s","x":0,"y":0},{"s":"c","v":"s","x":0.5,"y":-0.001},{"s":"c","v":"s","x":1,"y":-0.003},{"s":"c","v":"s","x":1.5,"y":-0.006},{"s":"c","v":"s","x":2,"y":-0.0086},
{"s":"d","v":"s","x":-2,"y":-0.0055},{"s":"d","v":"s","x":-1.5,"y":-0.0035},{"s":"d","v":"s","x":-1,"y":-0.0018},{"s":"d","v":"s","x":-0.5,"y":-0.0005},{"s":"d","v":"s","x":0,"y":0},{"s":"d","v":"s","x":0.5,"y":0},{"s":"d","v":"s","x":1,"y":-0.0004},{"s":"d","v":"s","x":1.5,"y":-0.0007},{"s":"d","v":"s","x":2,"y":-0.001},
{"s":"e","v":"s","x":-2,"y":-0.046},{"s":"e","v":"s","x":-1.5,"y":-0.027},{"s":"e","v":"s","x":-1,"y":-0.013},{"s":"e","v":"s","x":-0.5,"y":-0.003},{"s":"e","v":"s","x":0,"y":0},{"s":"e","v":"s","x":0.5,"y":-0.004},{"s":"e","v":"s","x":1,"y":-0.017},{"s":"e","v":"s","x":1.5,"y":-0.036},{"s":"e","v":"s","x":2,"y":-0.056},
{"s":"e","v":"u","x":-2,"y":-0.048},{"s":"e","v":"u","x":-1.5,"y":-0.028},{"s":"e","v":"u","x":-1,"y":-0.0135},{"s":"e","v":"u","x":-0.5,"y":-0.003},{"s":"e","v":"u","x":0,"y":0},{"s":"e","v":"u","x":0.5,"y":-0.004},{"s":"e","v":"u","x":1,"y":-0.018},{"s":"e","v":"u","x":1.5,"y":-0.038},{"s":"e","v":"u","x":2,"y":-0.058},
{"s":"f","v":"s","x":-2,"y":0.008},{"s":"f","v":"s","x":-1.5,"y":0.005},{"s":"f","v":"s","x":-1,"y":0.0025},{"s":"f","v":"s","x":-0.5,"y":0.0006},{"s":"f","v":"s","x":0,"y":0},{"s":"f","v":"s","x":0.5,"y":0.0002},{"s":"f","v":"s","x":1,"y":0.0005},{"s":"f","v":"s","x":1.5,"y":0.0008},{"s":"f","v":"s","x":2,"y":0.001},
{"s":"g","v":"s","x":-2,"y":-0.014},{"s":"g","v":"s","x":-1.5,"y":-0.009},{"s":"g","v":"s","x":-1,"y":-0.0045},{"s":"g","v":"s","x":-0.5,"y":-0.0012},{"s":"g","v":"s","x":0,"y":0},{"s":"g","v":"s","x":0.5,"y":-0.0015},{"s":"g","v":"s","x":1,"y":-0.005},{"s":"g","v":"s","x":1.5,"y":-0.01},{"s":"g","v":"s","x":2,"y":-0.0155},
{"s":"h","v":"s","x":-2,"y":0.02},{"s":"h","v":"s","x":-1.5,"y":0.013},{"s":"h","v":"s","x":-1,"y":0.007},{"s":"h","v":"s","x":-0.5,"y":0.002},{"s":"h","v":"s","x":0,"y":0},{"s":"h","v":"s","x":0.5,"y":0.002},{"s":"h","v":"s","x":1,"y":0.007},{"s":"h","v":"s","x":1.5,"y":0.0155},{"s":"h","v":"s","x":2,"y":0.023}
]
},
"columns":3,
"spacing":0,
"bounds":"flush",
"concat":[
{"width":518,"height":510,
 "layer":[
  {"data":{"name":"a1"},"transform":[{"filter":"datum.v!='s'"}],"mark":{"type":"line","strokeWidth":8,"strokeDash":[20,9],"opacity":0.5,"clip":true,"interpolate":"monotone"},"encoding":{"x":{"field":"x","type":"quantitative"},"y":{"field":"y","type":"quantitative"},"color":{"field":"s","type":"nominal"},"detail":{"field":"v"}}},
  {"data":{"name":"a1"},"transform":[{"filter":"datum.v=='s'"}],"mark":{"type":"line","strokeWidth":10,"clip":true,"interpolate":"monotone"},"encoding":{"x":{"field":"x","type":"quantitative","scale":{"domain":[-2.2,2.2],"nice":false,"zero":false},"axis":{"values":[-1.5,0,1.5],"format":".1f","labels":false,"ticks":false,"title":null}},"y":{"field":"y","type":"quantitative","scale":{"domain":[-0.135,0.135],"nice":false,"zero":false},"axis":{"values":[-0.08,0,0.08],"format":".2f","labels":true,"ticks":true,"title":null}},"color":{"field":"s","type":"nominal","legend":{"orient":"none","legendX":1583,"legendY":184,"title":null,"symbolType":"M-1,0H2","symbolSize":7744,"symbolStrokeWidth":10,"symbolOpacity":1,"labelOffset":91,"labelFontSize":58,"labelFont":"DejaVu Sans","labelFontStyle":"italic","labelColor":"black","labelLimit":400,"rowPadding":15,"padding":23,"strokeColor":"#cccccc","fillColor":"white","cornerRadius":10,"encode":{"symbols":{"update":{"opacity":{"value":1},"strokeOpacity":{"value":1},"strokeWidth":{"value":10},"strokeDash":{"value":[]}}}},"labelExpr":"datum.label=='a'?'Bᵣ + B̄ᵣ':datum.label=='b'?'Bₖ + B̄ₖ':datum.label=='c'?'Cₙₙ':datum.label=='d'?'Cᵣᵣ':datum.label=='e'?'Cₖₖ':datum.label=='f'?'Cᵣₖ + Cₖᵣ':datum.label=='g'?'Δ⁺ / 3':'Δ⁻ / 3'"}}}},
  {"data":{"name":"lab"},"transform":[{"filter":"datum.p=='a1'"}],"mark":{"type":"rect","fill":"white","fillOpacity":0.75,"stroke":"#555555","strokeWidth":2},"encoding":{"x":{"datum":-0.564,"type":"quantitative"},"x2":{"datum":1.402},"y":{"datum":0.1191,"type":"quantitative"},"y2":{"datum":0.0698}}},
  {"data":{"name":"lab"},"transform":[{"filter":"datum.p=='a1'"}],"mark":{"type":"text","font":"DejaVu Sans","fontSize":38,"lineBreak":"\n","lineHeight":46,"align":"center","baseline":"middle","color":"black"},"encoding":{"x":{"datum":0.419,"type":"quantitative"},"y":{"datum":0.1069,"type":"quantitative"},"text":{"field":"t","type":"nominal"}}}
 ]},
{"width":518,"height":510,
 "layer":[
  {"data":{"name":"a2"},"transform":[{"filter":"datum.v!='s'"}],"mark":{"type":"line","strokeWidth":8,"strokeDash":[20,9],"opacity":0.5,"clip":true,"interpolate":"monotone"},"encoding":{"x":{"field":"x","type":"quantitative"},"y":{"field":"y","type":"quantitative"},"color":{"field":"s","type":"nominal"},"detail":{"field":"v"}}},
  {"data":{"name":"a2"},"transform":[{"filter":"datum.v=='s'"}],"mark":{"type":"line","strokeWidth":10,"clip":true,"interpolate":"monotone"},"encoding":{"x":{"field":"x","type":"quantitative","scale":{"domain":[-2.2,2.2],"nice":false,"zero":false},"axis":{"values":[-1.5,0,1.5],"format":".1f","labels":false,"ticks":false,"title":null}},"y":{"field":"y","type":"quantitative","scale":{"domain":[-0.135,0.135],"nice":false,"zero":false},"axis":{"values":[-0.08,0,0.08],"format":".2f","labels":false,"ticks":false,"title":null}},"color":{"field":"s","type":"nominal"}}},
  {"data":{"name":"lab"},"transform":[{"filter":"datum.p=='a2'"}],"mark":{"type":"rect","fill":"white","fillOpacity":0.75,"stroke":"#555555","strokeWidth":2},"encoding":{"x":{"datum":-1.132,"type":"quantitative"},"x2":{"datum":1.961},"y":{"datum":0.1191,"type":"quantitative"},"y2":{"datum":0.0698}}},
  {"data":{"name":"lab"},"transform":[{"filter":"datum.p=='a2'"}],"mark":{"type":"text","font":"DejaVu Sans","fontSize":38,"lineBreak":"\n","lineHeight":46,"align":"center","baseline":"middle","color":"black"},"encoding":{"x":{"datum":0.415,"type":"quantitative"},"y":{"datum":0.1069,"type":"quantitative"},"text":{"field":"t","type":"nominal"}}}
 ]},
{"width":518,"height":510,
 "layer":[
  {"data":{"name":"a3"},"transform":[{"filter":"datum.v!='s'"}],"mark":{"type":"line","strokeWidth":8,"strokeDash":[20,9],"opacity":0.5,"clip":true,"interpolate":"monotone"},"encoding":{"x":{"field":"x","type":"quantitative"},"y":{"field":"y","type":"quantitative"},"color":{"field":"s","type":"nominal"},"detail":{"field":"v"}}},
  {"data":{"name":"a3"},"transform":[{"filter":"datum.v=='s'"}],"mark":{"type":"line","strokeWidth":10,"clip":true,"interpolate":"monotone"},"encoding":{"x":{"field":"x","type":"quantitative","scale":{"domain":[-2.2,2.2],"nice":false,"zero":false},"axis":{"values":[-1.5,0,1.5],"format":".1f","labels":false,"ticks":false,"title":null}},"y":{"field":"y","type":"quantitative","scale":{"domain":[-0.135,0.135],"nice":false,"zero":false},"axis":{"values":[-0.08,0,0.08],"format":".2f","labels":false,"ticks":false,"title":null}},"color":{"field":"s","type":"nominal"}}},
  {"data":{"name":"lab"},"transform":[{"filter":"datum.p=='a3'"}],"mark":{"type":"rect","fill":"white","fillOpacity":0.75,"stroke":"#555555","strokeWidth":2},"encoding":{"x":{"datum":-0.59,"type":"quantitative"},"x2":{"datum":1.402},"y":{"datum":0.1191,"type":"quantitative"},"y2":{"datum":0.0698}}},
  {"data":{"name":"lab"},"transform":[{"filter":"datum.p=='a3'"}],"mark":{"type":"text","font":"DejaVu Sans","fontSize":38,"lineBreak":"\n","lineHeight":46,"align":"center","baseline":"middle","color":"black"},"encoding":{"x":{"datum":0.406,"type":"quantitative"},"y":{"datum":0.1069,"type":"quantitative"},"text":{"field":"t","type":"nominal"}}}
 ]},
{"width":518,"height":510,
 "layer":[
  {"data":{"name":"b1"},"transform":[{"filter":"datum.v!='s'"}],"mark":{"type":"line","strokeWidth":8,"strokeDash":[20,9],"opacity":0.5,"clip":true,"interpolate":"monotone"},"encoding":{"x":{"field":"x","type":"quantitative"},"y":{"field":"y","type":"quantitative"},"color":{"field":"s","type":"nominal"},"detail":{"field":"v"}}},
  {"data":{"name":"b1"},"transform":[{"filter":"datum.v=='s'"}],"mark":{"type":"line","strokeWidth":10,"clip":true,"interpolate":"monotone"},"encoding":{"x":{"field":"x","type":"quantitative","scale":{"domain":[-2.2,2.2],"nice":false,"zero":false},"axis":{"values":[-1.5,0,1.5],"format":".1f","labels":false,"ticks":false,"title":null}},"y":{"field":"y","type":"quantitative","scale":{"domain":[-0.135,0.135],"nice":false,"zero":false},"axis":{"values":[-0.08,0,0.08],"format":".2f","labels":true,"ticks":true,"title":"Difference from SM","titleX":-275,"titleY":255,"titleAlign":"center","titleBaseline":"middle","titleAngle":-90}},"color":{"field":"s","type":"nominal"}}},
  {"data":{"name":"lab"},"transform":[{"filter":"datum.p=='b1'"}],"mark":{"type":"rect","fill":"white","fillOpacity":0.75,"stroke":"#555555","strokeWidth":2},"encoding":{"x":{"datum":-0.886,"type":"quantitative"},"x2":{"datum":1.758},"y":{"datum":0.1191,"type":"quantitative"},"y2":{"datum":0.0698}}},
  {"data":{"name":"lab"},"transform":[{"filter":"datum.p=='b1'"}],"mark":{"type":"text","font":"DejaVu Sans","fontSize":38,"lineBreak":"\n","lineHeight":46,"align":"center","baseline":"middle","color":"black"},"encoding":{"x":{"datum":0.436,"type":"quantitative"},"y":{"datum":0.1069,"type":"quantitative"},"text":{"field":"t","type":"nominal"}}}
 ]},
{"width":518,"height":510,
 "layer":[
  {"data":{"name":"b2"},"transform":[{"filter":"datum.v!='s'"}],"mark":{"type":"line","strokeWidth":8,"strokeDash":[20,9],"opacity":0.5,"clip":true,"interpolate":"monotone"},"encoding":{"x":{"field":"x","type":"quantitative"},"y":{"field":"y","type":"quantitative"},"color":{"field":"s","type":"nominal"},"detail":{"field":"v"}}},
  {"data":{"name":"b2"},"transform":[{"filter":"datum.v=='s'"}],"mark":{"type":"line","strokeWidth":10,"clip":true,"interpolate":"monotone"},"encoding":{"x":{"field":"x","type":"quantitative","scale":{"domain":[-2.2,2.2],"nice":false,"zero":false},"axis":{"values":[-1.5,0,1.5],"format":".1f","labels":false,"ticks":false,"title":null}},"y":{"field":"y","type":"quantitative","scale":{"domain":[-0.135,0.135],"nice":false,"zero":false},"axis":{"values":[-0.08,0,0.08],"format":".2f","labels":false,"ticks":false,"title":null}},"color":{"field":"s","type":"nominal"}}},
  {"data":{"name":"lab"},"transform":[{"filter":"datum.p=='b2'"}],"mark":{"type":"rect","fill":"white","fillOpacity":0.75,"stroke":"#555555","strokeWidth":2},"encoding":{"x":{"datum":-1.132,"type":"quantitative"},"x2":{"datum":1.961},"y":{"datum":0.1191,"type":"quantitative"},"y2":{"datum":0.0698}}},
  {"data":{"name":"lab"},"transform":[{"filter":"datum.p=='b2'"}],"mark":{"type":"text","font":"DejaVu Sans","fontSize":38,"lineBreak":"\n","lineHeight":46,"align":"center","baseline":"middle","color":"black"},"encoding":{"x":{"datum":0.415,"type":"quantitative"},"y":{"datum":0.1069,"type":"quantitative"},"text":{"field":"t","type":"nominal"}}}
 ]},
{"width":518,"height":510,
 "layer":[
  {"data":{"name":"b3"},"transform":[{"filter":"datum.v!='s'"}],"mark":{"type":"line","strokeWidth":8,"strokeDash":[20,9],"opacity":0.5,"clip":true,"interpolate":"monotone"},"encoding":{"x":{"field":"x","type":"quantitative"},"y":{"field":"y","type":"quantitative"},"color":{"field":"s","type":"nominal"},"detail":{"field":"v"}}},
  {"data":{"name":"b3"},"transform":[{"filter":"datum.v=='s'"}],"mark":{"type":"line","strokeWidth":10,"clip":true,"interpolate":"monotone"},"encoding":{"x":{"field":"x","type":"quantitative","scale":{"domain":[-2.2,2.2],"nice":false,"zero":false},"axis":{"values":[-1.5,0,1.5],"format":".1f","labels":false,"ticks":false,"title":null}},"y":{"field":"y","type":"quantitative","scale":{"domain":[-0.135,0.135],"nice":false,"zero":false},"axis":{"values":[-0.08,0,0.08],"format":".2f","labels":false,"ticks":false,"title":null}},"color":{"field":"s","type":"nominal"}}},
  {"data":{"name":"lab"},"transform":[{"filter":"datum.p=='b3'"}],"mark":{"type":"rect","fill":"white","fillOpacity":0.75,"stroke":"#555555","strokeWidth":2},"encoding":{"x":{"datum":-0.886,"type":"quantitative"},"x2":{"datum":1.741},"y":{"datum":0.1191,"type":"quantitative"},"y2":{"datum":0.0698}}},
  {"data":{"name":"lab"},"transform":[{"filter":"datum.p=='b3'"}],"mark":{"type":"text","font":"DejaVu Sans","fontSize":38,"lineBreak":"\n","lineHeight":46,"align":"center","baseline":"middle","color":"black"},"encoding":{"x":{"datum":0.428,"type":"quantitative"},"y":{"datum":0.1069,"type":"quantitative"},"text":{"field":"t","type":"nominal"}}}
 ]},
{"width":518,"height":510,
 "layer":[
  {"data":{"name":"c1"},"transform":[{"filter":"datum.v!='s'"}],"mark":{"type":"line","strokeWidth":8,"strokeDash":[20,9],"opacity":0.5,"clip":true,"interpolate":"monotone"},"encoding":{"x":{"field":"x","type":"quantitative"},"y":{"field":"y","type":"quantitative"},"color":{"field":"s","type":"nominal"},"detail":{"field":"v"}}},
  {"data":{"name":"c1"},"transform":[{"filter":"datum.v=='s'"}],"mark":{"type":"line","strokeWidth":10,"clip":true,"interpolate":"monotone"},"encoding":{"x":{"field":"x","type":"quantitative","scale":{"domain":[-2.2,2.2],"nice":false,"zero":false},"axis":{"values":[-1.5,0,1.5],"format":".1f","labels":true,"ticks":true,"title":null}},"y":{"field":"y","type":"quantitative","scale":{"domain":[-0.135,0.135],"nice":false,"zero":false},"axis":{"values":[-0.08,0,0.08],"format":".2f","labels":true,"ticks":true,"title":null}},"color":{"field":"s","type":"nominal"}}},
  {"data":{"name":"lab"},"transform":[{"filter":"datum.p=='c1'"}],"mark":{"type":"rect","fill":"white","fillOpacity":0.75,"stroke":"#555555","strokeWidth":2},"encoding":{"x":{"datum":-0.564,"type":"quantitative"},"x2":{"datum":1.402},"y":{"datum":0.1191,"type":"quantitative"},"y2":{"datum":0.0698}}},
  {"data":{"name":"lab"},"transform":[{"filter":"datum.p=='c1'"}],"mark":{"type":"text","font":"DejaVu Sans","fontSize":38,"lineBreak":"\n","lineHeight":46,"align":"center","baseline":"middle","color":"black"},"encoding":{"x":{"datum":0.419,"type":"quantitative"},"y":{"datum":0.1069,"type":"quantitative"},"text":{"field":"t","type":"nominal"}}}
 ]},
{"width":518,"height":510,
 "layer":[
  {"data":{"name":"c2"},"transform":[{"filter":"datum.v!='s'"}],"mark":{"type":"line","strokeWidth":8,"strokeDash":[20,9],"opacity":0.5,"clip":true,"interpolate":"monotone"},"encoding":{"x":{"field":"x","type":"quantitative"},"y":{"field":"y","type":"quantitative"},"color":{"field":"s","type":"nominal"},"detail":{"field":"v"}}},
  {"data":{"name":"c2"},"transform":[{"filter":"datum.v=='s'"}],"mark":{"type":"line","strokeWidth":10,"clip":true,"interpolate":"monotone"},"encoding":{"x":{"field":"x","type":"quantitative","scale":{"domain":[-2.2,2.2],"nice":false,"zero":false},"axis":{"values":[-1.5,0,1.5],"format":".1f","labels":true,"ticks":true,"title":"c¹ₜᵤ [ Λ = 1 TeV ]","titleX":259,"titleY":175,"titleAlign":"center","titleBaseline":"middle","titleFontSize":70}},"y":{"field":"y","type":"quantitative","scale":{"domain":[-0.135,0.135],"nice":false,"zero":false},"axis":{"values":[-0.08,0,0.08],"format":".2f","labels":false,"ticks":false,"title":null}},"color":{"field":"s","type":"nominal"}}},
  {"data":{"name":"lab"},"transform":[{"filter":"datum.p=='c2'"}],"mark":{"type":"rect","fill":"white","fillOpacity":0.75,"stroke":"#555555","strokeWidth":2},"encoding":{"x":{"datum":-1.132,"type":"quantitative"},"x2":{"datum":1.961},"y":{"datum":0.1191,"type":"quantitative"},"y2":{"datum":0.0698}}},
  {"data":{"name":"lab"},"transform":[{"filter":"datum.p=='c2'"}],"mark":{"type":"text","font":"DejaVu Sans","fontSize":38,"lineBreak":"\n","lineHeight":46,"align":"center","baseline":"middle","color":"black"},"encoding":{"x":{"datum":0.415,"type":"quantitative"},"y":{"datum":0.1069,"type":"quantitative"},"text":{"field":"t","type":"nominal"}}}
 ]},
{"width":518,"height":510,
 "layer":[
  {"data":{"name":"c3"},"transform":[{"filter":"datum.v!='s'"}],"mark":{"type":"line","strokeWidth":8,"strokeDash":[20,9],"opacity":0.5,"clip":true,"interpolate":"monotone"},"encoding":{"x":{"field":"x","type":"quantitative"},"y":{"field":"y","type":"quantitative"},"color":{"field":"s","type":"nominal"},"detail":{"field":"v"}}},
  {"data":{"name":"c3"},"transform":[{"filter":"datum.v=='s'"}],"mark":{"type":"line","strokeWidth":10,"clip":true,"interpolate":"monotone"},"encoding":{"x":{"field":"x","type":"quantitative","scale":{"domain":[-2.2,2.2],"nice":false,"zero":false},"axis":{"values":[-1.5,0,1.5],"format":".1f","labels":true,"ticks":true,"title":null}},"y":{"field":"y","type":"quantitative","scale":{"domain":[-0.135,0.135],"nice":false,"zero":false},"axis":{"values":[-0.08,0,0.08],"format":".2f","labels":false,"ticks":false,"title":null}},"color":{"field":"s","type":"nominal"}}},
  {"data":{"name":"lab"},"transform":[{"filter":"datum.p=='c3'"}],"mark":{"type":"rect","fill":"white","fillOpacity":0.75,"stroke":"#555555","strokeWidth":2},"encoding":{"x":{"datum":-0.59,"type":"quantitative"},"x2":{"datum":1.402},"y":{"datum":0.1191,"type":"quantitative"},"y2":{"datum":0.0698}}},
  {"data":{"name":"lab"},"transform":[{"filter":"datum.p=='c3'"}],"mark":{"type":"text","font":"DejaVu Sans","fontSize":38,"lineBreak":"\n","lineHeight":46,"align":"center","baseline":"middle","color":"black"},"encoding":{"x":{"datum":0.406,"type":"quantitative"},"y":{"datum":0.1069,"type":"quantitative"},"text":{"field":"t","type":"nominal"}}}
 ]}
],
"config":{
 "view":{"stroke":"black","strokeWidth":1.6},
 "axis":{"grid":true,"gridColor":"#b4b4b4","gridDash":[3,3],"gridWidth":1.3,"domain":false,"labelFont":"DejaVu Sans","labelFontSize":60,"labelLimit":400,"labelColor":"black","tickColor":"black","tickSize":5,"tickWidth":1.5,"titleFont":"DejaVu Sans","titleFontSize":72,"titleFontWeight":"normal","titleColor":"black","titleLimit":1000},
 "axisX":{"labelPadding":3},
 "axisY":{"labelPadding":9},
 "range":{"category":["#a896d4","#8a329b","#e8e227","#e8743a","#be2628","#8ecbca","#1a7a0a","#9fd43f"]}
}
}
